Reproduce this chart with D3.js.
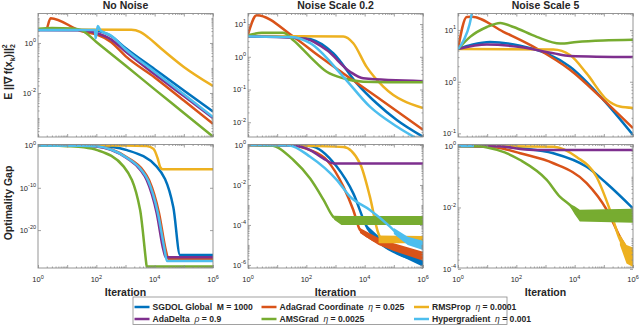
<!DOCTYPE html>
<html>
<head>
<meta charset="utf-8">
<script src="https://cdn.jsdelivr.net/npm/d3@7"></script>
<style>
  body { margin: 0; background: #fff; }
  text { font-family: "Liberation Sans", Arial, Helvetica, sans-serif; fill: #262626; }
</style>
</head>
<body>
<svg id="chart" width="640" height="325"></svg>
<script>
// series in legend / plot order
const seriesNames = ["SGDOL Global", "AdaGrad Coordinate", "RMSProp", "AdaDelta", "AMSGrad", "Hypergradient"];
const paramSymbols = ["M", "\u03b7", "\u03b7", "\u03c1", "\u03b7", "\u03b7"];
const paramValues = ["1000", "0.025", "0.0001", "0.9", "0.0025", "0.001"];
const seriesColors = ["#0072BD", "#D95319", "#EDB120", "#7E2F8E", "#77AC30", "#4DBEEE"];

const colTitles = ["No Noise", "Noise Scale 0.2", "Noise Scale 5"];
const xLabelExps = [0, 2, 4, 6];
const gradTickExps = [[0, -2], [1, 0, -1, -2], [1, 0, -1]];
const gapTickExps = [[0, -10, -20], [0, -2, -4, -6], [0, -2, -4]];
const gradDomains = [[1.74e-4, 15.1], [3.55e-3, 21], [0.085, 21]];
const gapDomains = [[1.1e-29, 1.7], [7e-7, 1.06], [1.07e-4, 1.12]];

// ---- No noise: E||grad f||^2   ([iteration, value])
const gNN_sgdol    = [[1,3.3],[30,3.3],[100,3.1],[316,1.9],[1e3,0.63],[1e4,0.089],[1e5,0.0126],[1e6,1.8e-3]];
const gNN_adagrad  = [[1,3.5],[1.9,3.5],[2.7,9.8],[30,3.0],[100,2.2],[316,1.1],[1e3,0.3],[1e4,0.042],[1e5,5e-3],[1e6,5.9e-4]];
const gNN_rmsprop  = [[1,3.5],[1585,3.4],[3162,2.8],[6310,1.6],[15849,0.63],[1e5,0.11],[1e6,0.019]];
const gNN_adadelta = [[1,3.3],[30,3.2],[100,2.5],[316,1.4],[1e3,0.45],[1e4,0.056],[1e5,7.6e-3],[1e6,1e-3]];
const gNN_amsgrad  = [[1,3.7],[3,4.0],[16,3.8],[32,3.2],[100,1.1],[1e3,0.126],[1e4,0.014],[1e5,1.6e-3],[1e6,1.8e-4]];
const gNN_hyper    = [[1,3.3],[89,3.3],[95,1.55],[112,4.8],[138,3.2],[316,2.0],[1e3,0.56],[1e4,0.071],[1e5,8.9e-3],[1e6,1.1e-3]];

// ---- No noise: optimality gap
const oNN_sgdol    = [[1,1],[100,0.9],[300,0.5],[1122,0.08],[11749,1e-5],[43652,2.5e-15],[74131,1.3e-26],[1e6,1.3e-26]];
const oNN_adagrad  = [[1,1],[30,0.9],[100,0.65],[316,0.13],[1259,1e-3],[3890,1.6e-6],[6457,6e-9],[14125,1e-16],[24000,2e-25],[29500,1.6e-27],[1e6,1.6e-27]];
const oNN_rmsprop  = [[1,1],[1000,0.98],[5370,0.8],[9120,0.16],[12600,1e-3],[15500,8e-6],[18600,2.5e-6],[1e6,2.5e-6]];
const oNN_adadelta = [[1,1],[30,0.9],[100,0.6],[316,0.1],[1122,1e-3],[3236,1.6e-6],[5370,6e-9],[11749,1e-16],[19953,2e-25],[23988,4e-27],[1e6,4e-27]];
const oNN_amsgrad  = [[1,1],[3,0.95],[10,0.7],[37,0.37],[107,0.08],[871,1e-5],[3162,6.3e-16],[5130,1.6e-28],[5300,2.5e-29],[1e6,2.5e-29]];
const oNN_hyper    = [[1,1],[30,0.9],[100,0.62],[316,0.11],[1180,1e-3],[3500,1.6e-6],[5900,6e-9],[12900,1e-16],[22000,2e-25],[26300,5e-28],[1e6,5e-28]];

// ---- Noise scale 0.2: E||grad f||^2
const g02_sgdol    = [[1,4.2],[30,4.1],[135,3.5],[851,1.26],[5370,0.155],[25700,0.038],[126000,0.0117],[1e6,3.6e-3]];
const g02_adagrad  = [[1,4.8],[2,18.6],[36,4.1],[295,1.0],[1862,0.31],[25700,0.06],[1e6,5.9e-3]];
const g02_rmsprop  = [[1,4.3],[1862,4.2],[4070,2.6],[11500,0.5],[43600,0.123],[1e6,0.027]];
const g02_adadelta = [[1,4.2],[36,3.8],[100,3.5],[500,1.6],[3160,0.35],[8900,0.22],[1e6,0.18]];
const g02_amsgrad  = [[1,4.5],[3,5.4],[16,5.4],[36,3.2],[135,1.0],[500,0.35],[1862,0.22],[8900,0.174],[1e6,0.166]];
const g02_hyper    = [[1,4.2],[30,4.0],[135,2.6],[1862,0.245],[15100,0.03],[126000,7.4e-3],[1e6,2.5e-3]];

// ---- Noise scale 0.2: optimality gap (+ noise bands [iteration, low, high])
const o02_sgdol    = [[1,1],[135,0.9],[1100,0.083],[4070,3.8e-3],[11700,8.3e-5],[25700,1.8e-5],[126000,3.8e-6],[1e6,1.5e-6]];
const o02_adagrad  = [[1,1],[36,0.93],[135,0.56],[500,0.178],[1862,8.3e-3],[4070,5.6e-4],[6900,5.6e-5],[15000,2.2e-5],[1e5,8e-6],[1e6,2.6e-6]];
const o02_rmsprop  = [[1,1],[1862,0.8],[6900,0.12],[15100,2.6e-3],[29500,3.8e-5],[40000,1.8e-5],[1e6,1.8e-5]];
const o02_adadelta = [[1,1],[36,0.95],[135,0.56],[390,0.21],[851,0.12],[1e6,0.12]];
const o02_amsgrad  = [[1,1],[6,0.95],[36,0.178],[135,0.021],[390,1.8e-3],[851,2.5e-4],[1500,1.7e-4],[1e6,1.6e-4]];
const o02_hyper    = [[1,1],[25,0.95],[135,0.26],[1100,0.018],[3160,2.6e-3],[15100,5.6e-4],[74000,8.3e-5],[214000,1.8e-5],[1e6,8.3e-6]];
const o02_sgdolBand   = [[11700,6e-5,1e-4],[50000,7e-6,1.4e-5],[2e5,2.5e-6,5e-6],[1e6,8e-7,2.2e-6]];
const o02_adagradBand = [[6900,4e-5,7e-5],[30000,1e-5,2.2e-5],[1e5,5e-6,1.2e-5],[1e6,1.6e-6,4.5e-6]];
const o02_rmspropBand = [[30000,1.2e-5,3e-5],[1e6,1.2e-5,2.8e-5]];
const o02_amsgradBand = [[900,1.8e-4,2.9e-4],[1600,1e-4,2.8e-4],[1e6,1e-4,2.8e-4]];
const o02_hyperBand   = [[1e5,3.5e-5,7e-5],[3e5,1e-5,2.6e-5],[1e6,5.6e-6,1.6e-5]];

// ---- Noise scale 5: E||grad f||^2
const g5_sgdol    = [[1,4.3],[3,5.2],[12.6,5.9],[135,5.0],[1100,3.55],[6900,1.95],[95000,0.45],[1e6,0.093]];
const g5_adagrad  = [[1,4.3],[2,18],[3,18.2],[36,9.3],[500,4.4],[6900,1.7],[95000,0.45],[1e6,0.126]];
const g5_rmsprop  = [[1,4.3],[1862,4.2],[6900,3.3],[25700,1.45],[126000,0.45],[355000,0.33],[1e6,0.31]];
const g5_adadelta = [[1,4.3],[9.8,5.25],[135,4.7],[1862,3.55],[6900,3.16],[1e6,3.0]];
const g5_amsgrad  = [[1,4.3],[2.6,7.4],[9.8,11.5],[28,13.8],[80,11.5],[500,7.4],[3160,5.5],[11700,5.9],[95000,6.3],[1e6,6.5]];
const g5_hyper    = [[1,4.3],[1.6,6.5],[2.5,13],[3.5,35]];

// ---- Noise scale 5: optimality gap
const o5_sgdol    = [[1,1],[36,0.97],[135,0.85],[1862,0.58],[25700,0.21],[126000,0.06],[1e6,9.3e-3]];
const o5_adagrad  = [[1,1],[10,0.97],[36,0.82],[135,0.58],[1862,0.275],[25700,0.062],[126000,8.3e-3],[355000,1.1e-3],[800000,2.5e-4],[1e6,1.3e-4]];
const o5_rmsprop  = [[1,1],[1862,0.95],[11700,0.44],[56000,0.1],[162000,8.3e-3],[355000,9e-4],[700000,3e-4],[1e6,2e-4]];
const o5_adadelta = [[1,1],[30,0.97],[135,0.8],[500,0.74],[1e6,0.74]];
const o5_amsgrad  = [[1,1],[5,0.98],[10,0.9],[40,0.62],[135,0.35],[1100,0.079],[3160,0.022],[6900,0.012],[15000,5.8e-3],[1e6,5.8e-3]];
const o5_hyper    = [[1,1],[3.5,1]];
const o5_amsgradBand = [[6900,0.011,0.013],[10000,6e-3,0.011],[15000,3.5e-3,8.5e-3],[1e6,3.2e-3,9e-3]];
const o5_rmspropBand = [[355000,6e-4,1.3e-3],[600000,1.5e-4,6e-4],[1e6,1.15e-4,5e-4]];

const gradSeries = [
  [gNN_sgdol, gNN_adagrad, gNN_rmsprop, gNN_adadelta, gNN_amsgrad, gNN_hyper],
  [g02_sgdol, g02_adagrad, g02_rmsprop, g02_adadelta, g02_amsgrad, g02_hyper],
  [g5_sgdol, g5_adagrad, g5_rmsprop, g5_adadelta, g5_amsgrad, g5_hyper]
];
const gapSeries = [
  [oNN_sgdol, oNN_adagrad, oNN_rmsprop, oNN_adadelta, oNN_amsgrad, oNN_hyper],
  [o02_sgdol, o02_adagrad, o02_rmsprop, o02_adadelta, o02_amsgrad, o02_hyper],
  [o5_sgdol, o5_adagrad, o5_rmsprop, o5_adadelta, o5_amsgrad, o5_hyper]
];
const gapBands = [
  [],
  [o02_sgdolBand, o02_adagradBand, o02_rmspropBand, null, o02_amsgradBand, o02_hyperBand],
  [null, null, o5_rmspropBand, null, o5_amsgradBand, null]
];

// layout
const colX = [38, 248, 458], rowY = [13.5, 144.5], plotW = 175, plotH = 123.5;
const tickColor = "#8a8a8a";
const svg = d3.select("#chart");

function logTicks(domain, mantissas) {
  const out = [];
  const lo = Math.floor(Math.log10(domain[0])), hi = Math.ceil(Math.log10(domain[1]));
  for (let e = lo; e <= hi; e++) mantissas.forEach(m => {
    const v = m * Math.pow(10, e);
    if (v >= domain[0] && v <= domain[1]) out.push(v);
  });
  return out;
}

function tickGroup(transform, axis) {
  const g = svg.append("g").attr("transform", transform).call(axis);
  g.select(".domain").remove();
  g.selectAll("text").remove();
  g.selectAll("line").attr("stroke", tickColor).attr("stroke-width", 0.8);
}

function drawPanel(col, row, domain, series, bands, labelExps) {
  const x0 = colX[col], y0 = rowY[row];
  const x = d3.scaleLog().domain([1, 1e6]).range([x0, x0 + plotW]);
  const y = d3.scaleLog().domain(domain).range([y0 + plotH, y0]);

  const clipId = `clip-${col}-${row}`;
  svg.append("clipPath").attr("id", clipId).append("rect")
    .attr("x", x0).attr("y", y0).attr("width", plotW).attr("height", plotH);
  const g = svg.append("g").attr("clip-path", `url(#${clipId})`);

  const line = d3.line().x(d => x(d[0])).y(d => y(d[1])).curve(d3.curveMonotoneX);
  const area = d3.area().x(d => x(d[0])).y0(d => y(d[1])).y1(d => y(d[2]));

  series.forEach((pts, i) => {
    if (bands && bands[i]) {
      g.append("path").datum(bands[i]).attr("d", area).attr("fill", seriesColors[i]);
    }
    g.append("path").datum(pts)
      .attr("d", line)
      .attr("fill", "none")
      .attr("stroke", seriesColors[i])
      .attr("stroke-width", 2.5)
      .attr("stroke-linejoin", "round");
  });

  // ticks on all four sides, pointing inward
  const xMajor = logTicks([1, 1e6], [1]);
  const xMinor = logTicks([1, 1e6], [2, 3, 4, 5, 6, 7, 8, 9]);
  const yMajor = labelExps.map(e => Math.pow(10, e));
  const wide = Math.log10(domain[1] / domain[0]) > 10;
  const yMinor = wide ? [] : logTicks(domain, [1, 2, 3, 4, 5, 6, 7, 8, 9]).filter(v => !yMajor.includes(v));

  tickGroup(`translate(0,${y0 + plotH})`, d3.axisBottom(x).tickValues(xMajor).tickSize(-3));
  tickGroup(`translate(0,${y0 + plotH})`, d3.axisBottom(x).tickValues(xMinor).tickSize(-1.5));
  tickGroup(`translate(0,${y0})`, d3.axisTop(x).tickValues(xMajor).tickSize(-3));
  tickGroup(`translate(0,${y0})`, d3.axisTop(x).tickValues(xMinor).tickSize(-1.5));
  tickGroup(`translate(${x0},0)`, d3.axisLeft(y).tickValues(yMajor).tickSize(-3));
  tickGroup(`translate(${x0},0)`, d3.axisLeft(y).tickValues(yMinor).tickSize(-1.5));
  tickGroup(`translate(${x0 + plotW},0)`, d3.axisRight(y).tickValues(yMajor).tickSize(-3));
  tickGroup(`translate(${x0 + plotW},0)`, d3.axisRight(y).tickValues(yMinor).tickSize(-1.5));

  svg.append("rect")
    .attr("x", x0).attr("y", y0).attr("width", plotW).attr("height", plotH)
    .attr("fill", "none").attr("stroke", tickColor).attr("stroke-width", 0.9);

  // y tick labels 10^e
  labelExps.forEach(e => {
    const t = svg.append("text")
      .attr("x", x0 - 2).attr("y", y(Math.pow(10, e)) + 2.8)
      .attr("text-anchor", "end").attr("font-size", 7.5).text("10");
    t.append("tspan").attr("dy", -3.5).attr("font-size", 5.5).text(e < 0 ? "-" + (-e) : e);
  });

  // x tick labels only on the bottom row
  if (row === 1) {
    xLabelExps.forEach(e => {
      const t = svg.append("text")
        .attr("x", x(Math.pow(10, e))).attr("y", y0 + plotH + 14)
        .attr("text-anchor", "middle").attr("font-size", 7.5).text("10");
      t.append("tspan").attr("dy", -3.5).attr("font-size", 5.5).text(e);
    });
    svg.append("text")
      .attr("x", x0 + plotW / 2).attr("y", 296)
      .attr("text-anchor", "middle").attr("font-size", 10.5).attr("font-weight", "bold")
      .text("Iteration");
  } else {
    svg.append("text")
      .attr("x", x0 + plotW / 2).attr("y", 9)
      .attr("text-anchor", "middle").attr("font-size", 10.5).attr("font-weight", "bold")
      .text(colTitles[col]);
  }
}

for (let c = 0; c < 3; c++) {
  drawPanel(c, 0, gradDomains[c], gradSeries[c], null, gradTickExps[c]);
  drawPanel(c, 1, gapDomains[c], gapSeries[c], gapBands[c], gapTickExps[c]);
}

// y axis titles
const gradLabel = svg.append("text")
  .attr("transform", "translate(12,72) rotate(-90)")
  .attr("text-anchor", "middle").attr("font-size", 10.5).attr("font-weight", "bold")
  .text("E ||\u2207 f(x");
gradLabel.append("tspan").attr("dy", 2.5).attr("font-size", 7).text("k");
gradLabel.append("tspan").attr("dy", -2.5).text(")||");
gradLabel.append("tspan").attr("dy", 3).attr("font-size", 7).text("2");
gradLabel.append("tspan").attr("dx", -4).attr("dy", -8).attr("font-size", 7).text("2");

svg.append("text")
  .attr("transform", "translate(12,203) rotate(-90)")
  .attr("text-anchor", "middle").attr("font-size", 10.5).attr("font-weight", "bold")
  .text("Optimality Gap");

// legend
const legendTextX = [152.5, 279.5, 432];
const legendRowY = [307, 319];
svg.append("rect")
  .attr("x", 133).attr("y", 297).attr("width", 374).attr("height", 27.5)
  .attr("fill", "#fff").attr("stroke", tickColor).attr("stroke-width", 0.8);

seriesNames.forEach((name, i) => {
  const tx = legendTextX[i % 3], cy = legendRowY[Math.floor(i / 3)];
  svg.append("line")
    .attr("x1", tx - 18).attr("x2", tx - 3).attr("y1", cy).attr("y2", cy)
    .attr("stroke", seriesColors[i]).attr("stroke-width", 2.5);
  const t = svg.append("text")
    .attr("x", tx).attr("y", cy + 3.2)
    .attr("font-size", 8.6).attr("font-weight", "bold")
    .text(name + "\u00a0\u00a0");
  const greek = paramSymbols[i] !== "M";
  t.append("tspan")
    .attr("font-weight", greek ? "normal" : "bold")
    .attr("font-style", greek ? "italic" : "normal")
    .text(paramSymbols[i]);
  t.append("tspan").text(" = " + paramValues[i]);
});
</script>
</body>
</html>
